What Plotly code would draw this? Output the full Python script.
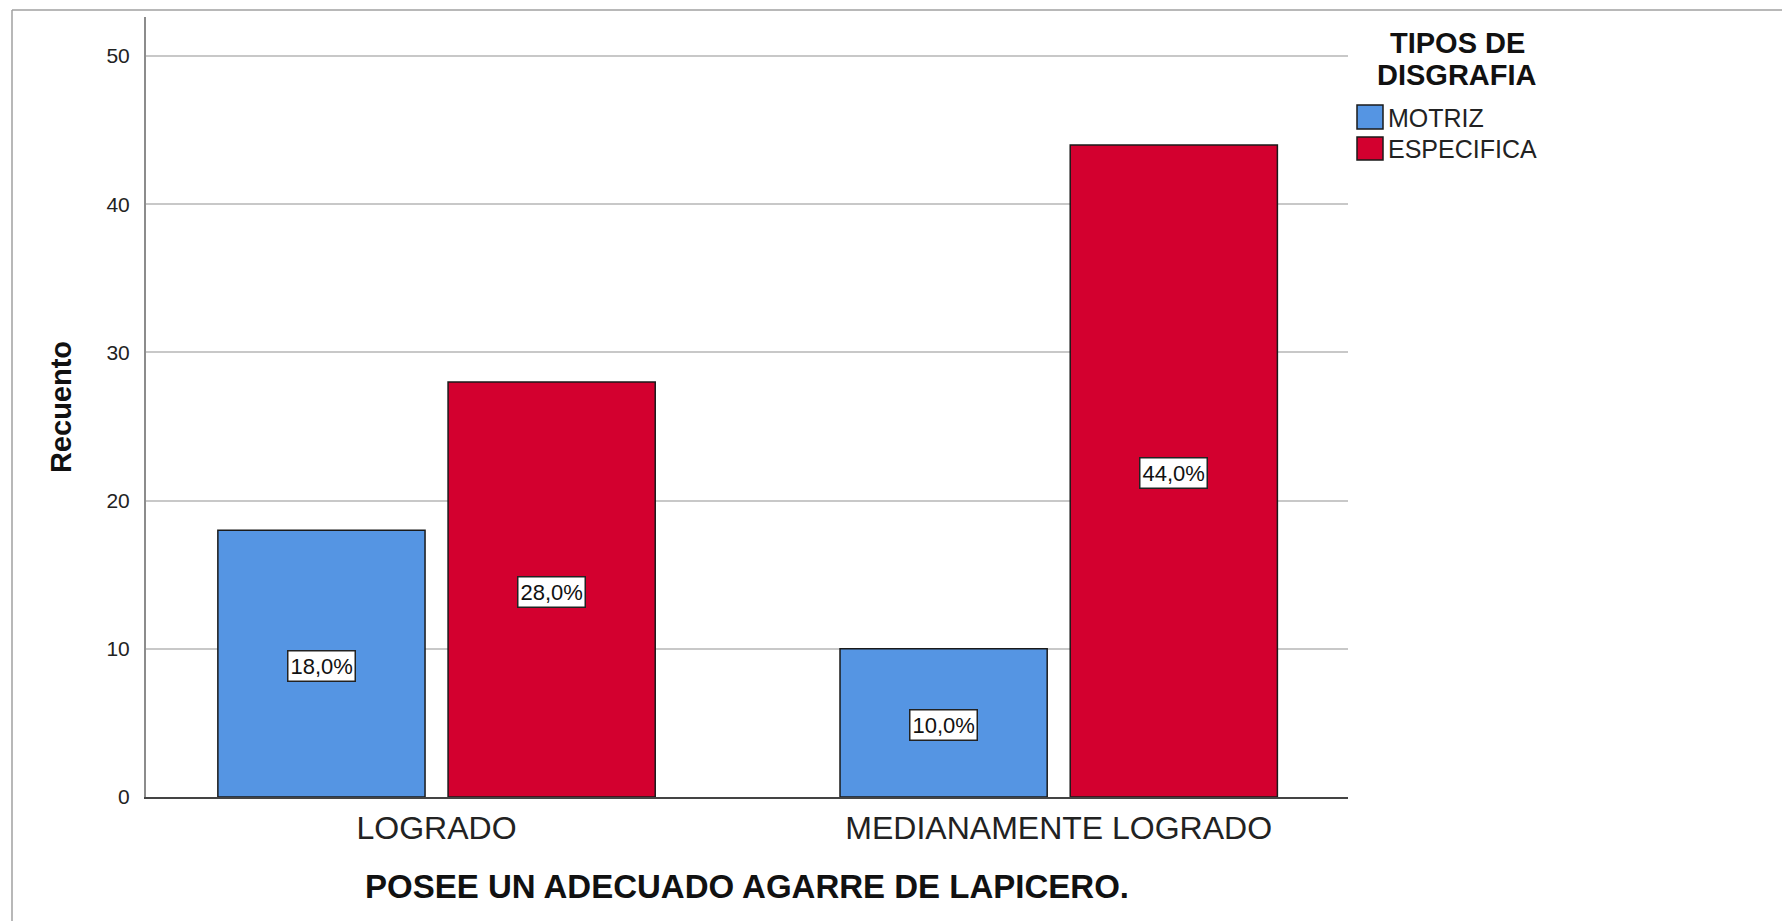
import plotly.graph_objects as go

# ---------------- data ----------------
categories = ["LOGRADO", "MEDIANAMENTE LOGRADO"]
series_names = ["MOTRIZ", "ESPECIFICA"]
motriz = [18, 10]
especifica = [28, 44]
motriz_pct = ["18,0%", "10,0%"]
especifica_pct = ["28,0%", "44,0%"]
y_ticks = [0, 10, 20, 30, 40, 50]
series_colors = ["#5595E3", "#D3002F"]
legend_title_lines = ["TIPOS DE", "DISGRAFIA"]

# ---------------- geometry / style ----------------
W, H = 1782, 921
ML, MR, MT, MB = 146, 434, 17, 124
PW, PH = W - ML - MR, H - MT - MB
BARGAP = 0.26
BARGROUPGAP = 0.10
FONT = "Liberation Sans, Arial, sans-serif"


def px2x(px):
    return (px - ML) / PW


def px2y(py):
    return (H - MB - py) / PH


series_vals = [motriz, especifica]
series_pct = [motriz_pct, especifica_pct]

fig = go.Figure()
for name, vals, col in zip(series_names, series_vals, series_colors):
    fig.add_trace(go.Bar(
        x=categories, y=vals, name=name,
        marker=dict(color=col, line=dict(color="#1a1a1a", width=1.5)),
        showlegend=False,
    ))

annotations = []
n_series = len(series_names)
slot = (1 - BARGAP) / n_series
for s, (vals, pcts) in enumerate(zip(series_vals, series_pct)):
    off = (s - (n_series - 1) / 2) * slot
    for ci, (v, p) in enumerate(zip(vals, pcts)):
        annotations.append(dict(
            x=ci + off, y=v / 2, xref="x", yref="y", yshift=-2, text=p, showarrow=False,
            font=dict(family=FONT, size=22, color="#111"),
            bgcolor="white", bordercolor="#222", borderwidth=1.5, borderpad=2,
            xanchor="center", yanchor="middle",
        ))

# legend (manual, to match the large swatches)
for line, cy in zip(legend_title_lines, [43, 75]):
    annotations.append(dict(x=px2x(1457), y=px2y(cy), xref="paper", yref="paper",
                            text="<b>%s</b>" % line, showarrow=False,
                            font=dict(family=FONT, size=29, color="#111"),
                            xanchor="center", yanchor="middle"))
shapes = []
leg_rows = [(105, 129), (137, 160)]
for (y0, y1), name, col in zip(leg_rows, series_names, series_colors):
    shapes.append(dict(type="rect", xref="paper", yref="paper",
                       x0=px2x(1357), x1=px2x(1383), y0=px2y(y1), y1=px2y(y0),
                       fillcolor=col, line=dict(color="#1a1a1a", width=1.5)))
    annotations.append(dict(x=px2x(1386), y=px2y((y0 + y1) / 2 + 1), xref="paper", yref="paper",
                            text=name, showarrow=False,
                            font=dict(family=FONT, size=25, color="#222"),
                            xanchor="left", yanchor="middle"))

# outer frame (top and left lines)
shapes.append(dict(type="line", xref="paper", yref="paper",
                   x0=px2x(12), x1=px2x(W), y0=px2y(10), y1=px2y(10),
                   line=dict(color="#A0A0A0", width=1.5)))
shapes.append(dict(type="line", xref="paper", yref="paper",
                   x0=px2x(12), x1=px2x(12), y0=px2y(10), y1=px2y(H),
                   line=dict(color="#A0A0A0", width=1.5)))

fig.update_layout(
    width=W, height=H,
    margin=dict(l=ML, r=MR, t=MT, b=MB, pad=0),
    paper_bgcolor="white", plot_bgcolor="white",
    barmode="group", bargap=BARGAP, bargroupgap=BARGROUPGAP,
    font=dict(family=FONT, color="#222"),
    annotations=annotations, shapes=shapes,
    showlegend=False,
    xaxis=dict(
        range=[-0.467, 1.465],
        showline=True, linecolor="#444", linewidth=1.5,
        showgrid=False, zeroline=False,
        ticks="outside", ticklen=2, tickcolor="rgba(0,0,0,0)",
        tickfont=dict(family=FONT, size=32, color="#222"),
        title=dict(text="<b>POSEE UN ADECUADO AGARRE DE LAPICERO.</b>",
                   font=dict(family=FONT, size=33, color="#111"), standoff=30),
    ),
    yaxis=dict(
        range=[0, 52.63], tickvals=y_ticks,
        showline=True, linecolor="#8C8C8C", linewidth=2,
        showgrid=True, gridcolor="#C8C8C8", gridwidth=1.5,
        zeroline=False,
        ticks="outside", ticklen=10, tickcolor="rgba(0,0,0,0)",
        tickfont=dict(family=FONT, size=21, color="#222"),
        title=dict(text="<b>Recuento</b>",
                   font=dict(family=FONT, size=29, color="#111"), standoff=26),
    ),
)

fig.write_html("out.html", config={"displayModeBar": False},
               post_script="document.body.style.margin='0';")
